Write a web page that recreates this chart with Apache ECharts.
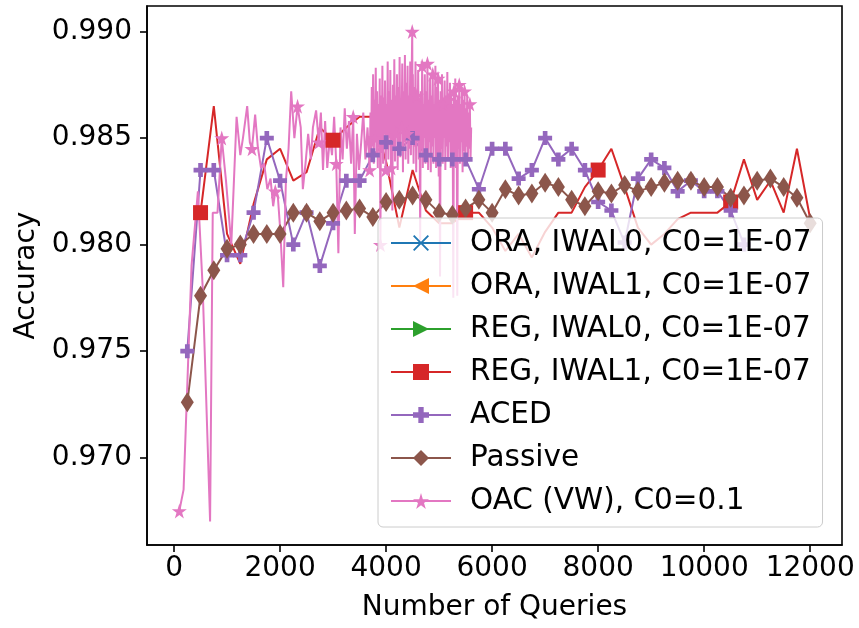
<!DOCTYPE html>
<html>
<head>
<meta charset="utf-8">
<title>Accuracy vs number of queries</title>
<script src="https://cdn.jsdelivr.net/npm/echarts@6.0.0/dist/echarts.min.js"></script>
<style>
  html, body { margin: 0; padding: 0; background: #fff; }
  #main { width: 859px; height: 628px; }
</style>
</head>
<body>
<div id="main"></div>
<script>
// query counts for the curves sampled on a grid
var queries = [250, 500, 750, 1000, 1250, 1500, 1750, 2000, 2250, 2500, 2750, 3000,
  3250, 3500, 3750, 4000, 4250, 4500, 4750, 5000, 5250, 5500, 5750, 6000,
  6250, 6500, 6750, 7000, 7250, 7500, 7750, 8000, 8250, 8500, 8750, 9000,
  9250, 9500, 9750, 10000, 10250, 10500, 10750, 11000, 11250, 11500, 11750, 12000]

var xTicks = [0, 2000, 4000, 6000, 8000, 10000, 12000]
var yTicks = [0.970, 0.975, 0.980, 0.985, 0.990]

// ORA / REG IWAL0 runs leave no visible trace in the plot
var oraIwal0 = []
var oraIwal1 = []
var regIwal0 = []

// REG, IWAL1 starts at 500 queries
var regIwal1 = [0.9815, 0.9865, 0.9805, 0.9791, 0.9819, 0.9840, 0.9845, 0.9830, 0.9834, 0.9855,
  0.9849, 0.9855, 0.9860, 0.9860, 0.9839, 0.9808, 0.9835, 0.9816, 0.9810, 0.9810,
  0.9815, 0.9815, 0.9808, 0.9797, 0.9805, 0.9794, 0.9806, 0.9815, 0.9815, 0.9827,
  0.9835, 0.9845, 0.9827, 0.9808, 0.9800, 0.9805, 0.9812, 0.9815, 0.9815, 0.9815,
  0.9820, 0.9840, 0.9821, 0.9830, 0.9815, 0.9845, 0.9812]

// ACED stops at 10750 queries
var aced = [0.9750, 0.9835, 0.9835, 0.9795, 0.9795, 0.9815, 0.9850, 0.9830, 0.9800, 0.9815,
  0.9790, 0.9810, 0.9830, 0.9830, 0.9842, 0.9848, 0.9845, 0.9850, 0.9842, 0.9840,
  0.9840, 0.9840, 0.9826, 0.9845, 0.9845, 0.9831, 0.9835, 0.9850, 0.9840, 0.9845,
  0.9835, 0.9820, 0.9816, 0.9801, 0.9831, 0.9840, 0.9836, 0.9825, 0.9830, 0.9825,
  0.9825, 0.9816, 0.9800]

var passive = [0.9726, 0.9776, 0.9788, 0.9798, 0.9800, 0.9805, 0.9805, 0.9805, 0.9815, 0.9815,
  0.9811, 0.9815, 0.9816, 0.9817, 0.9813, 0.9820, 0.9821, 0.9823, 0.9821, 0.9815,
  0.9814, 0.9817, 0.9821, 0.9815, 0.9826, 0.9823, 0.9824, 0.9829, 0.9827, 0.9821,
  0.9818, 0.9825, 0.9824, 0.9828, 0.9825, 0.9827, 0.9829, 0.9830, 0.9830, 0.9827,
  0.9827, 0.9822, 0.9823, 0.9830, 0.9831, 0.9827, 0.9822, 0.9810]

// OAC (VW) has its own, uneven query counts (dense after ~3700)
var oacX = [100, 180, 330, 450, 540, 680, 730, 820, 900, 980,
  1080, 1180, 1250, 1300, 1380, 1430, 1470, 1530, 1580, 1640,
  1700, 1760, 1820, 1870, 1910, 1960, 2000, 2060, 2110, 2160,
  2210, 2270, 2330, 2390, 2430, 2480, 2530, 2580, 2620, 2680,
  2730, 2770, 2810, 2850, 2890, 2940, 2980, 3020, 3060, 3100,
  3140, 3180, 3220, 3260, 3300, 3340, 3380, 3410, 3450, 3490,
  3530, 3570, 3610, 3650, 3690, 3705, 3718, 3730, 3743, 3755,
  3768, 3780, 3793, 3805, 3818, 3830, 3843, 3855, 3868, 3880,
  3893, 3905, 3918, 3930, 3943, 3955, 3968, 3980, 3993, 4005,
  4018, 4030, 4043, 4055, 4068, 4080, 4093, 4105, 4118, 4130,
  4143, 4155, 4168, 4180, 4193, 4205, 4218, 4230, 4243, 4255,
  4268, 4280, 4293, 4305, 4318, 4330, 4343, 4355, 4368, 4380,
  4393, 4405, 4418, 4430, 4443, 4455, 4468, 4480, 4493, 4500,
  4505, 4518, 4530, 4543, 4555, 4568, 4580, 4593, 4605, 4618,
  4630, 4643, 4655, 4668, 4680, 4693, 4705, 4718, 4730, 4743,
  4755, 4768, 4780, 4793, 4805, 4818, 4830, 4843, 4855, 4868,
  4880, 4893, 4905, 4918, 4930, 4943, 4955, 4968, 4980, 4993,
  5005, 5018, 5030, 5043, 5055, 5068, 5080, 5093, 5105, 5118,
  5130, 5143, 5155, 5168, 5180, 5193, 5205, 5218, 5230, 5243,
  5255, 5268, 5280, 5293, 5305, 5318, 5330, 5343, 5355, 5368,
  5380, 5393, 5405, 5418, 5430, 5443, 5455, 5468, 5480, 5493,
  5505, 5518, 5530, 5543, 5555, 5568, 5580, 5593, 5605]
var oacY = [0.9675, 0.9685, 0.9790, 0.9825, 0.9780, 0.9670, 0.9815, 0.9815, 0.9850, 0.9830,
  0.9800, 0.9860, 0.9842, 0.9850, 0.9865, 0.9848, 0.9845, 0.9861, 0.9846, 0.9836,
  0.9838, 0.9826, 0.9831, 0.9818, 0.9825, 0.9822, 0.9808, 0.9780, 0.9830, 0.9845,
  0.9872, 0.9850, 0.9865, 0.9855, 0.9826, 0.9838, 0.9852, 0.9840, 0.9855, 0.9863,
  0.9848, 0.9862, 0.9835, 0.9858, 0.9836, 0.9850, 0.9842, 0.9860, 0.9838, 0.9796,
  0.9855, 0.9840, 0.9864, 0.9845, 0.9858, 0.9838, 0.9860, 0.9805, 0.9852, 0.9835,
  0.9848, 0.9862, 0.9840, 0.9855, 0.9835, 0.9862, 0.9840, 0.9874, 0.9846, 0.9880,
  0.9838, 0.9868, 0.9850, 0.9883, 0.9842, 0.9872, 0.9836, 0.9866, 0.9848, 0.9878,
  0.9800, 0.9870, 0.9843, 0.9884, 0.9838, 0.9869, 0.9852, 0.9877, 0.9835, 0.9866,
  0.9845, 0.9886, 0.9840, 0.9872, 0.9850, 0.9882, 0.9836, 0.9868, 0.9816, 0.9875,
  0.9844, 0.9887, 0.9839, 0.9870, 0.9852, 0.9880, 0.9835, 0.9874, 0.9846, 0.9888,
  0.9841, 0.9868, 0.9855, 0.9885, 0.9834, 0.9872, 0.9848, 0.9889, 0.9840, 0.9876,
  0.9852, 0.9884, 0.9838, 0.9870, 0.9845, 0.9886, 0.9842, 0.9874, 0.9900, 0.9852,
  0.9880, 0.9838, 0.9874, 0.9846, 0.9886, 0.9834, 0.9870, 0.9848, 0.9882, 0.9840,
  0.9868, 0.9802, 0.9872, 0.9845, 0.9884, 0.9836, 0.9866, 0.9850, 0.9880, 0.9838,
  0.9872, 0.9844, 0.9885, 0.9835, 0.9868, 0.9848, 0.9878, 0.9834, 0.9870, 0.9846,
  0.9880, 0.9838, 0.9866, 0.9850, 0.9884, 0.9836, 0.9874, 0.9842, 0.9878, 0.9832,
  0.9868, 0.9785, 0.9872, 0.9845, 0.9880, 0.9838, 0.9866, 0.9850, 0.9877, 0.9835,
  0.9870, 0.9846, 0.9881, 0.9840, 0.9868, 0.9848, 0.9876, 0.9836, 0.9870, 0.9844,
  0.9866, 0.9775, 0.9872, 0.9842, 0.9878, 0.9836, 0.9868, 0.9776, 0.9870, 0.9845,
  0.9875, 0.9838, 0.9866, 0.9848, 0.9874, 0.9834, 0.9868, 0.9844, 0.9872, 0.9838,
  0.9864, 0.9846, 0.9870, 0.9840, 0.9862, 0.9845, 0.9866, 0.9840, 0.9855]

var FONT = 'DejaVu Sans'
var PLUS = 'path://M4,0H8V4H12V8H8V12H4V8H0V4H4Z'
var STAR = 'path://M50,0L61,35L98,35L68,57L79,91L50,70L21,91L32,57L2,35L39,35Z'
var CROSS = 'path://M0,1L1,0L6,5L11,0L12,1L7,6L12,11L11,12L6,7L1,12L0,11L5,6Z'

function pairs (xs, ys) {
  return ys.map(function (y, i) { return [xs[i], y] })
}

// matplotlib style markevery: only every n-th point gets a marker
function markEvery (n, size) {
  return function (val, params) {
    return params.dataIndex % n === 0 ? size : 0
  }
}

function lineSeries (name, color, symbol, size, data, every, rotate) {
  return {
    name: name,
    type: 'line',
    data: data,
    color: color,
    symbol: symbol,
    symbolRotate: rotate || 0,
    symbolSize: every ? markEvery(every, size) : size,
    showSymbol: true,
    showAllSymbol: true,
    lineStyle: { width: 2, color: color },
    itemStyle: { color: color, opacity: 1 },
    emphasis: { disabled: true },
    animation: false
  }
}

var series = [
  lineSeries('ORA, IWAL0, C0=1E-07', '#1f77b4', CROSS, 14, pairs(queries.slice(1), oraIwal0), 10),
  lineSeries('ORA, IWAL1, C0=1E-07', '#ff7f0e', 'triangle', 15, pairs(queries.slice(1), oraIwal1), 10, 90),
  lineSeries('REG, IWAL0, C0=1E-07', '#2ca02c', 'triangle', 15, pairs(queries.slice(1), regIwal0), 10, -90),
  lineSeries('REG, IWAL1, C0=1E-07', '#d62728', 'rect', 15, pairs(queries.slice(1), regIwal1), 10),
  lineSeries('ACED', '#9467bd', PLUS, 14, pairs(queries, aced)),
  lineSeries('Passive', '#8c564b', 'diamond', [13, 20], pairs(queries, passive)),
  lineSeries('OAC (VW), C0=0.1', '#e377c2', STAR, 15, pairs(oacX, oacY), 8)
]

var axisText = { color: '#000', fontFamily: FONT, fontSize: 28 }
var blackLine = { color: '#000', width: 1.6 }

var chart = echarts.init(document.getElementById('main'), null, { renderer: 'canvas' })
chart.setOption({
  backgroundColor: '#fff',
  animation: false,
  grid: {
    left: 147, right: 17, top: 6, bottom: 83,
    show: true, borderColor: '#000', borderWidth: 1.6, backgroundColor: 'transparent'
  },
  xAxis: {
    type: 'value',
    min: -510,
    max: 12600,
    name: 'Number of Queries',
    nameLocation: 'middle',
    nameGap: 49,
    nameTextStyle: axisText,
    axisLine: { show: true, onZero: false, lineStyle: blackLine },
    axisTick: { show: true, length: 7, customValues: xTicks, lineStyle: blackLine },
    axisLabel: {
      customValues: xTicks,
      margin: 10,
      color: '#000',
      fontFamily: FONT,
      fontSize: 28,
      formatter: function (v) { return String(v) }
    },
    splitLine: { show: false }
  },
  yAxis: {
    type: 'value',
    min: 0.9659,
    max: 0.9912,
    name: 'Accuracy',
    nameLocation: 'middle',
    nameGap: 105,
    nameTextStyle: axisText,
    axisLine: { show: true, onZero: false, lineStyle: blackLine },
    axisTick: { show: true, length: 7, customValues: yTicks, lineStyle: blackLine },
    axisLabel: {
      customValues: yTicks,
      margin: 15,
      color: '#000',
      fontFamily: FONT,
      fontSize: 28,
      formatter: function (v) { return v.toFixed(3) }
    },
    splitLine: { show: false }
  },
  legend: {
    orient: 'vertical',
    left: 378,
    top: 218,
    padding: [7, 11, 8, 12],
    itemWidth: 60,
    itemHeight: 20,
    itemGap: 7,
    selectedMode: false,
    backgroundColor: 'rgba(255,255,255,0.8)',
    borderColor: '#cccccc',
    borderWidth: 1,
    borderRadius: 5,
    textStyle: { color: '#000', fontFamily: FONT, fontSize: 29.5, lineHeight: 36, padding: [0, 0, 0, 14] },
    data: series.map(function (s) { return s.name })
  },
  series: series
})
</script>
</body>
</html>
